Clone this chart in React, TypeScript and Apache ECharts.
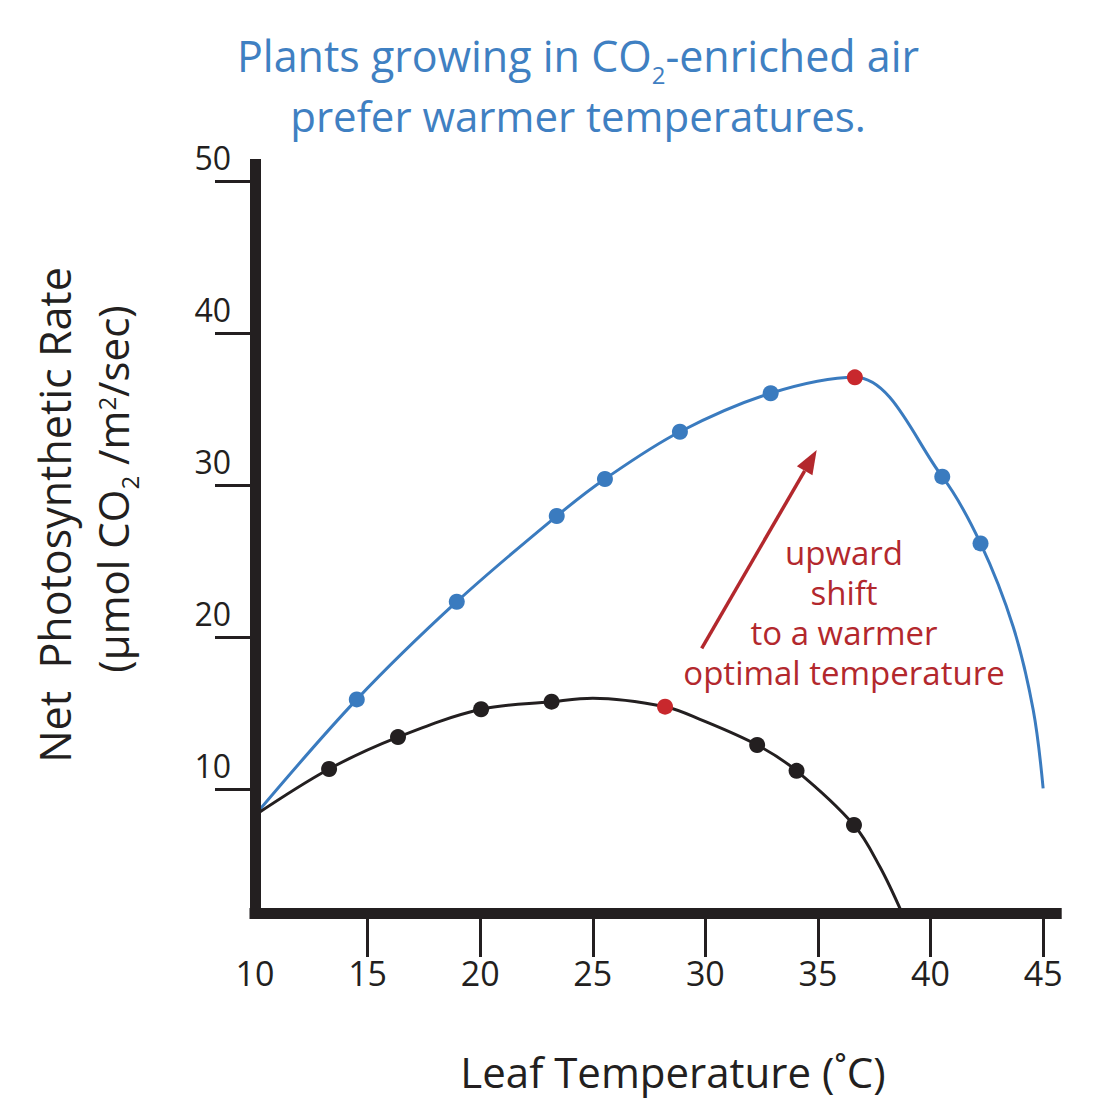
import React, { useEffect, useRef } from 'react';
import * as echarts from 'echarts';

// ---------- data ----------
const xTickValues = [15, 20, 25, 30, 35, 40, 45];
const xLabelValues = [10, 15, 20, 25, 30, 35, 40, 45];
const yTickValues = [10, 20, 30, 40, 50];

// CO2-enriched air (blue curve)
const enrichedCurve = [
  [10, 8.3], [14.52, 15.92], [18.96, 22.35], [23.4, 27.99], [25.54, 30.43],
  [28.87, 33.54], [32.9, 36.07], [36.64, 37.12], [40.52, 30.58], [42.22, 26.19],
  [43.67, 20.7], [44.56, 15.22], [45.0, 10.07],
];
const enrichedPoints = [
  [14.52, 15.92], [18.96, 22.35], [23.4, 27.99], [25.54, 30.43],
  [28.87, 33.54], [32.9, 36.07], [40.52, 30.58], [42.22, 26.19],
];
const enrichedOptimum = [[36.64, 37.12]];

// ambient air (black curve)
const ambientCurve = [
  [10, 8.3], [13.29, 11.34], [16.35, 13.44], [20.04, 15.27], [23.17, 15.77],
  [25.0, 16.0], [28.21, 15.44], [29.76, 14.61], [32.3, 12.92], [34.05, 11.22],
  [36.6, 7.65], [37.75, 4.9], [38.72, 1.9],
];
const ambientPoints = [
  [13.29, 11.34], [16.35, 13.44], [20.04, 15.27], [23.17, 15.77],
  [32.3, 12.92], [34.05, 11.22], [36.6, 7.65],
];
const ambientOptimum = [[28.21, 15.44]];

const titleLines = ['Plants growing in CO{sub|2}-enriched air', 'prefer warmer temperatures.'];
const yNameLines = ['Net  Photosynthetic Rate', '(μmol CO{sub|2} /m{sup|2}/sec)'];
const xName = 'Leaf Temperature (˚C)';
const noteLines = ['upward', 'shift', 'to a warmer', 'optimal temperature'];

// ---------- styles ----------
const FONT = 'Open Sans';
const INK = '#231f20';
const BLUE = '#3a7bbf';
const TITLE_BLUE = '#3f80c2';
const RED = '#c8282d';
const NOTE_RED = '#b3282d';

export default function App() {
  const ref = useRef<HTMLDivElement>(null);

  useEffect(() => {
    if (!ref.current) return;
    const chart = echarts.init(ref.current, null, { renderer: 'svg' });

    // arrow geometry (annotation, pixel space)
    const tail = [693.7, 640.3];
    const tip = [808.7, 442];
    const dx = tip[0] - tail[0];
    const dy = tip[1] - tail[1];
    const len = Math.sqrt(dx * dx + dy * dy);
    const ux = dx / len;
    const uy = dy / len;
    const headLen = 24;
    const headHalf = 9;
    const bx = tip[0] - headLen * ux;
    const by = tip[1] - headLen * uy;
    const nx = -uy;
    const ny = ux;

    const noteCenters = [544, 584, 624, 664];

    const option: any = {
      animation: false,
      grid: { left: 247, top: 156.5, right: 46.8, bottom: 189, containLabel: false },
      xAxis: {
        type: 'value',
        min: 10,
        max: 45.58,
        z: 5,
        axisLine: { show: true, onZero: false, lineStyle: { color: INK, width: 11, cap: 'square' } },
        axisTick: { show: true, customValues: xTickValues, length: 44, lineStyle: { color: INK, width: 3 } },
        axisLabel: {
          customValues: xLabelValues,
          margin: 43,
          fontSize: 34,
          fontFamily: FONT,
          color: INK,
        },
        splitLine: { show: false },
      },
      yAxis: {
        type: 'value',
        min: 1.86,
        max: 51.13,
        z: 5,
        axisLine: { show: true, onZero: false, lineStyle: { color: INK, width: 11, cap: 'square' } },
        axisTick: { show: true, customValues: yTickValues, length: 40, lineStyle: { color: INK, width: 3 } },
        axisLabel: {
          customValues: yTickValues,
          margin: 24,
          fontSize: 32,
          fontFamily: FONT,
          color: INK,
          verticalAlign: 'bottom',
          lineHeight: 48,
        },
        splitLine: { show: false },
      },
      series: [
        {
          type: 'line',
          data: enrichedCurve,
          smooth: 0.35,
          showSymbol: false,
          lineStyle: { color: BLUE, width: 3 },
          z: 2,
        },
        {
          type: 'line',
          data: ambientCurve,
          smooth: 0.35,
          showSymbol: false,
          lineStyle: { color: INK, width: 3 },
          z: 2,
        },
        {
          type: 'scatter',
          data: enrichedPoints,
          symbolSize: 16,
          itemStyle: { color: BLUE, opacity: 1 },
          z: 3,
        },
        {
          type: 'scatter',
          data: ambientPoints,
          symbolSize: 16,
          itemStyle: { color: INK, opacity: 1 },
          z: 3,
        },
        {
          type: 'scatter',
          data: [...enrichedOptimum, ...ambientOptimum],
          symbolSize: 16,
          itemStyle: { color: RED, opacity: 1 },
          z: 4,
        },
      ],
      graphic: [
        // title
        {
          type: 'text',
          x: 570,
          y: 47,
          style: {
            text: titleLines[0],
            fill: TITLE_BLUE,
            fontFamily: FONT,
            fontSize: 43,
            align: 'center',
            verticalAlign: 'middle',
            rich: {
              sub: { fontSize: 24, fontFamily: FONT, fill: TITLE_BLUE, padding: [38, 0, 0, 0], lineHeight: 20 },
            },
          },
        },
        {
          type: 'text',
          x: 570,
          y: 107,
          style: {
            text: titleLines[1],
            fill: TITLE_BLUE,
            fontFamily: FONT,
            fontSize: 42,
            align: 'center',
            verticalAlign: 'middle',
          },
        },
        // y axis name
        {
          type: 'text',
          x: 46.3,
          y: 507,
          rotation: Math.PI / 2,
          style: {
            text: yNameLines[0],
            fill: INK,
            fontFamily: FONT,
            fontSize: 43,
            align: 'center',
            verticalAlign: 'middle',
          },
        },
        {
          type: 'text',
          x: 104,
          y: 481,
          rotation: Math.PI / 2,
          style: {
            text: yNameLines[1],
            fill: INK,
            fontFamily: FONT,
            fontSize: 42,
            align: 'center',
            verticalAlign: 'middle',
            rich: {
              sub: { fontSize: 24, fontFamily: FONT, fill: INK, padding: [34, 0, 0, 0] },
              sup: { fontSize: 24, fontFamily: FONT, fill: INK, padding: [0, 0, 12, 0] },
            },
          },
        },
        // x axis name
        {
          type: 'text',
          x: 665,
          y: 1063.7,
          style: {
            text: xName,
            fill: INK,
            fontFamily: FONT,
            fontSize: 42,
            align: 'center',
            verticalAlign: 'middle',
          },
        },
        // annotation text
        ...noteLines.map((t, i) => ({
          type: 'text',
          x: 836,
          y: noteCenters[i],
          style: {
            text: t,
            fill: NOTE_RED,
            fontFamily: FONT,
            fontSize: 33,
            align: 'center',
            verticalAlign: 'middle',
          },
        })),
        // arrow
        {
          type: 'line',
          shape: { x1: tail[0], y1: tail[1], x2: bx, y2: by },
          style: { stroke: NOTE_RED, lineWidth: 3.5 },
        },
        {
          type: 'polygon',
          shape: {
            points: [
              [tip[0], tip[1]],
              [bx + headHalf * nx, by + headHalf * ny],
              [bx - headHalf * nx, by - headHalf * ny],
            ],
          },
          style: { fill: NOTE_RED },
        },
      ],
    };

    chart.setOption(option);
    return () => chart.dispose();
  }, []);

  return <div ref={ref} style={{ width: 1095, height: 1094, background: '#fff' }} />;
}
